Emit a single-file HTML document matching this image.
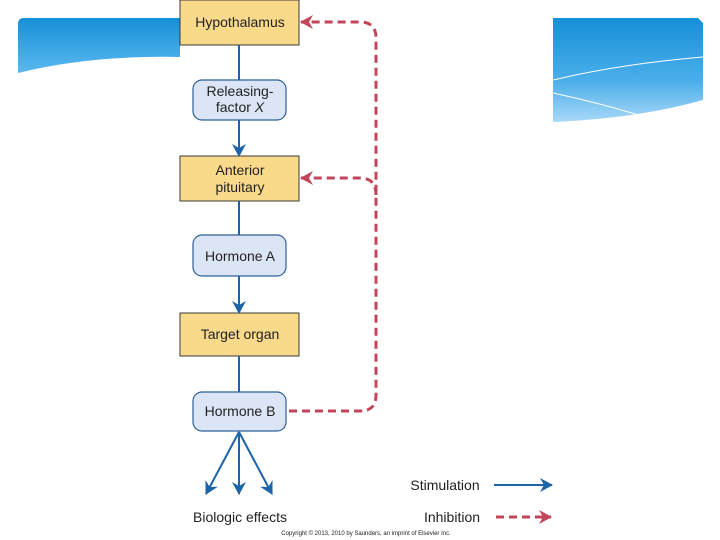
<!DOCTYPE html>
<html><head><style>
body{margin:0;background:#fff;}
svg{display:block;font-family:"Liberation Sans",sans-serif;}
</style></head><body>
<svg width="720" height="540" viewBox="0 0 720 540">
<defs>
<linearGradient id="g1" x1="0" y1="0" x2="0" y2="1">
<stop offset="0" stop-color="#1690d8"/><stop offset="1" stop-color="#5bb8f0"/>
</linearGradient>
<linearGradient id="g2" x1="0" y1="0" x2="0" y2="1">
<stop offset="0" stop-color="#1690d8"/><stop offset="0.6" stop-color="#4aaeea"/><stop offset="1" stop-color="#a9d8f7"/>
</linearGradient>
<marker id="ab" markerWidth="14" markerHeight="14" refX="12" refY="7" orient="auto" markerUnits="userSpaceOnUse">
<path d="M0,0 L13,7 L0,14 L4,7 Z" fill="#1b64a8"/></marker>
<marker id="ar" markerWidth="14" markerHeight="14" refX="12" refY="7" orient="auto" markerUnits="userSpaceOnUse">
<path d="M0,0 L13,7 L0,14 L4,7 Z" fill="#c2455a"/></marker>
</defs>
<path d="M18,24 Q18,18 24,18 L180,18 L180,57 Q90,55 18,73 Z" fill="url(#g1)"/>
<path d="M553,18 L698,18 L703,23 L703,100 Q640,118 553,122 Z" fill="url(#g2)"/>
<path d="M553,80 Q620,64 703,57" stroke="#fff" fill="none" stroke-width="1"/>
<path d="M553,93 Q600,103 645,117" stroke="#fff" fill="none" stroke-width="1"/>
<g stroke="#3a3a3a" stroke-width="1" fill="#f9d98a">
<rect x="180" y="0" width="119" height="45"/>
<rect x="180" y="156" width="119" height="45"/>
<rect x="180" y="313" width="119" height="43"/>
</g>
<g stroke="#2e5f9a" stroke-width="1.2" fill="#dce5f5">
<rect x="193" y="80" width="93" height="40" rx="9"/>
<rect x="193" y="235" width="93" height="41" rx="9"/>
<rect x="193" y="392" width="93" height="39" rx="9"/>
</g>
<g stroke="#1b64a8" stroke-width="2" fill="none">
<line x1="239" y1="45" x2="239" y2="80"/>
<line x1="239" y1="120" x2="239" y2="156" marker-end="url(#ab)"/>
<line x1="239" y1="201" x2="239" y2="235"/>
<line x1="239" y1="276" x2="239" y2="313" marker-end="url(#ab)"/>
<line x1="239" y1="356" x2="239" y2="392"/>
<line x1="239" y1="432" x2="206" y2="494" marker-end="url(#ab)"/>
<line x1="239" y1="432" x2="239" y2="494" marker-end="url(#ab)"/>
<line x1="239" y1="432" x2="272" y2="494" marker-end="url(#ab)"/>
<line x1="494" y1="485" x2="552" y2="485" marker-end="url(#ab)"/>
</g>
<g stroke="#c2455a" stroke-width="3" fill="none" stroke-dasharray="8,5">
<path d="M289,411 L360,411 Q376,411 376,395 L376,38 Q376,22 360,22 L301,22" marker-end="url(#ar)"/>
<path d="M376,195 Q376,178 360,178 L301,178" marker-end="url(#ar)"/>
<path d="M496,517 L551,517" marker-end="url(#ar)"/>
</g>
<g font-size="14" fill="#222" text-anchor="middle">
<text x="240" y="27">Hypothalamus</text>
<text x="240" y="96">Releasing-</text>
<text x="240" y="112">factor <tspan font-style="italic">X</tspan></text>
<text x="240" y="175">Anterior</text>
<text x="240" y="192">pituitary</text>
<text x="240" y="261">Hormone A</text>
<text x="240" y="339">Target organ</text>
<text x="240" y="416">Hormone B</text>
<text x="240" y="522">Biologic effects</text>
<text x="445" y="490">Stimulation</text>
<text x="452" y="522">Inhibition</text>
<text x="366" y="535" font-size="6">Copyright © 2013, 2010 by Saunders, an imprint of Elsevier Inc.</text>
</g>
</svg>
</body></html>
